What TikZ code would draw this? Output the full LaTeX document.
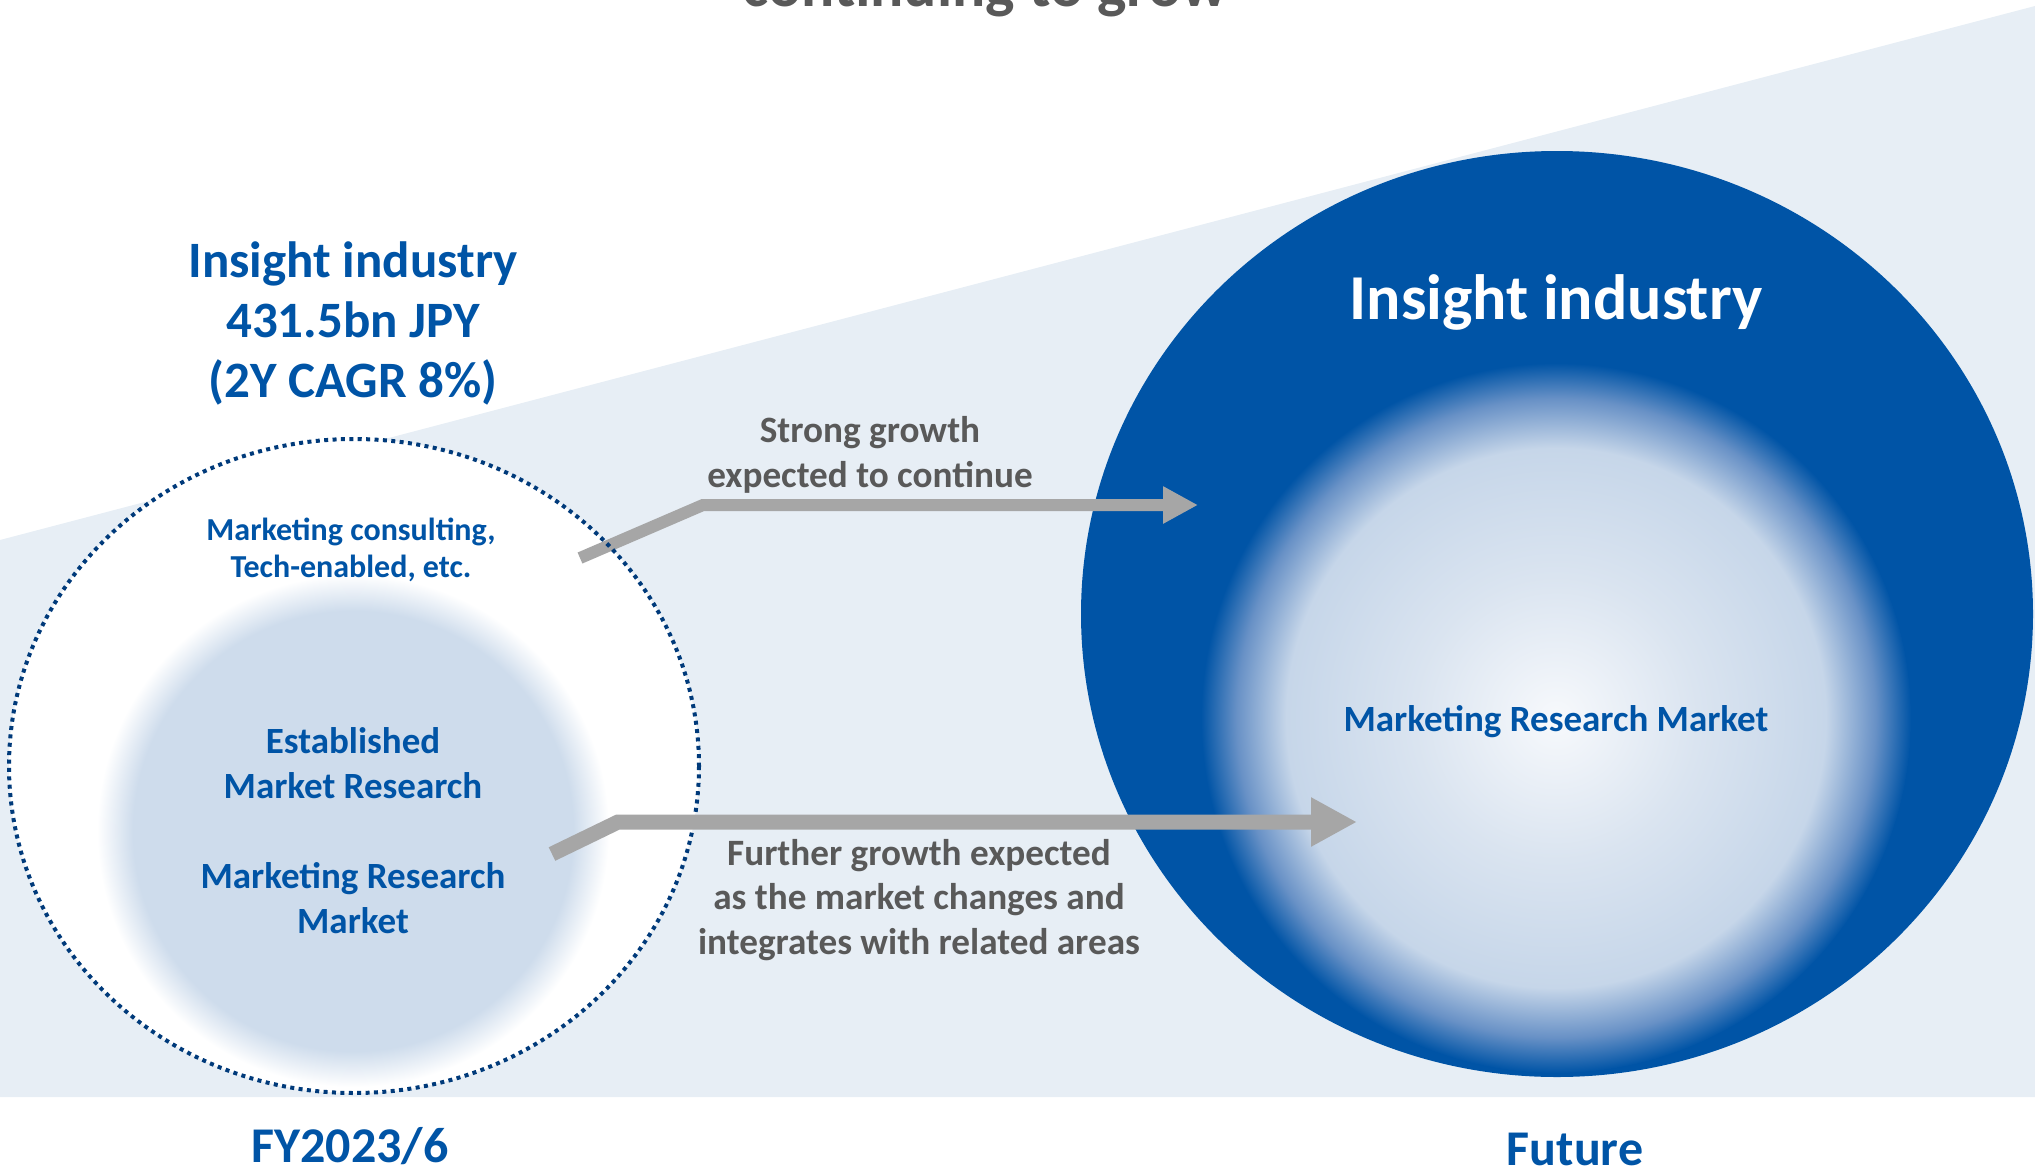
\documentclass[tikz,border=0pt]{standalone}
\usepackage{fontspec}
\setmainfont{Carlito}
\usetikzlibrary{arrows.meta}

\definecolor{insblue}{HTML}{0054A6}
\definecolor{navy}{HTML}{003A7A}
\definecolor{bandgray}{HTML}{E7EEF5}
\definecolor{mrlight}{HTML}{CEDCEC}
\definecolor{arrowgray}{HTML}{A6A6A6}
\definecolor{txtgray}{HTML}{595959}
\definecolor{futcenter}{HTML}{F7F9FC}
\definecolor{futinner}{HTML}{DAE4F0}
\definecolor{futlight}{HTML}{C6D6E9}
\definecolor{futmid}{HTML}{6891C6}

% degradados de los circulos (el borde del circulo cae en 25bp)
\pgfdeclareradialshading{mrfade}{\pgfpoint{0bp}{0bp}}{%
  color(0bp)=(mrlight); color(21.5bp)=(mrlight); color(25bp)=(white); color(50bp)=(white)}
\pgfdeclareradialshading{futfade}{\pgfpoint{0bp}{0bp}}{%
  color(0bp)=(futcenter); color(10bp)=(futinner); color(19bp)=(futlight);
  color(22.5bp)=(futmid); color(25bp)=(insblue); color(50bp)=(insblue)}

\tikzset{
  titulo/.style={font=\bfseries\fontsize{25.5}{30}\selectfont, text=insblue, align=center, inner sep=0pt},
  chico/.style={font=\bfseries\fontsize{16}{18.8}\selectfont, text=insblue, align=center, inner sep=0pt},
  medio/.style={font=\bfseries\fontsize{18.5}{22.5}\selectfont, text=insblue, align=center, inner sep=0pt},
  gris/.style={font=\bfseries\fontsize{18.6}{22.3}\selectfont, text=txtgray, align=center, inner sep=0pt},
  flecha/.style={draw=arrowgray, line join=miter}
}

\begin{document}
\begin{tikzpicture}[x=0.5pt, y=-0.5pt]

\clip (0,0) rectangle (2035,1173);

% Banda de fondo
\fill[bandgray] (0,540) -- (2035,6) -- (2035,1097) -- (0,1097) -- cycle;

% Lema (cortado arriba)
\node[gris, font=\bfseries\fontsize{31}{36}\selectfont, anchor=base] (lema) at (985,6) {continuing to grow};

% Circulo FY2023/6
\fill[white] (354,766) ellipse [x radius=345, y radius=327];
\shade[shading=mrfade] (353,831) circle [radius=256];

% Circulo futuro
\fill[insblue] (1557,614) ellipse [x radius=476, y radius=463];
\shade[shading=futfade] (1556,718) circle [radius=355];

% Flecha de arriba
\coordinate (up-a) at (580,558);
\coordinate (up-b) at (703,505);
\coordinate (up-c) at (1198,505);
\draw[flecha, line width=6pt, -{Triangle[length=17.5pt, width=17.5pt]}] (up-a) -- (up-b) -- (up-c);

% Borde punteado
\draw[navy, line width=2pt, dash pattern=on 2pt off 2.2pt] (354,766) ellipse [x radius=345, y radius=327];

% Flecha de abajo
\coordinate (low-a) at (552,854);
\coordinate (low-b) at (618,822);
\coordinate (low-c) at (1357,822);
\draw[flecha, line width=7.5pt, -{Triangle[length=23pt, width=23pt]}] (low-a) -- (low-b) -- (low-c);

% Textos de la izquierda
\node[titulo] (ind-izq) at (353,323) {Insight industry\\431.5bn JPY\\(2Y CAGR 8\%)};
\node[chico] (consult) at (351,550) {Marketing consulting,\\Tech-enabled, etc.};
\node[medio] (establ) at (353,763) {Established\\Market Research};
\node[medio] (mrm-izq) at (353,898) {Marketing Research\\Market};

% Textos de las flechas
\node[gris] (txt-up) at (870,455) {Strong growth\\expected to continue};
\node[gris] (txt-low) at (919,900) {Further growth expected\\as the market changes and\\integrates with related areas};

% Textos de la derecha
\node[titulo, text=white, font=\bfseries\fontsize{32}{38}\selectfont] (ind-der) at (1556,302) {Insight industry};
\node[medio] (mrm-der) at (1556,722) {Marketing Research Market};

% Fechas
\node[titulo, font=\bfseries\fontsize{25}{30}\selectfont] (fy) at (350,1146) {FY2023/6};
\node[titulo, font=\bfseries\fontsize{25}{30}\selectfont] (fut) at (1575,1149) {Future};

\end{tikzpicture}
\end{document}
